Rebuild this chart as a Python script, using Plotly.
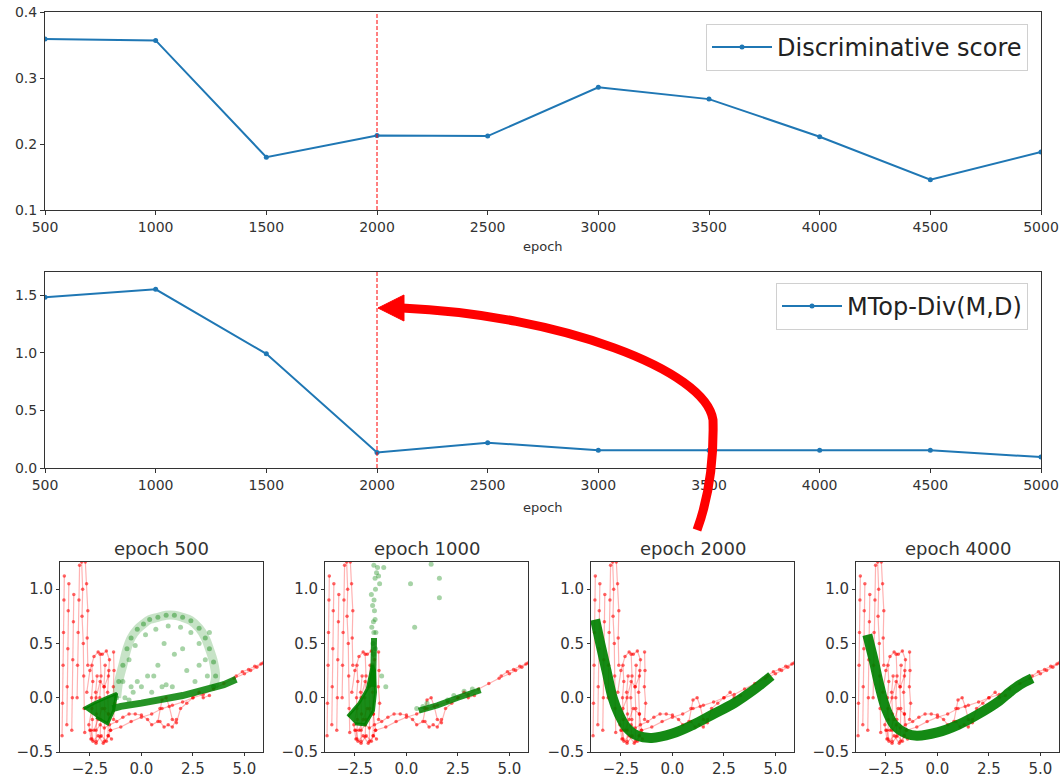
import plotly.graph_objects as go

W, H = 1061, 779

# ---------------- data ----------------
epochs = [500, 1000, 1500, 2000, 2500, 3000, 3500, 4000, 4500, 5000]
disc_score = [0.359, 0.357, 0.180, 0.213, 0.212, 0.286, 0.268, 0.211, 0.146, 0.188]
mtop_div = [1.48, 1.55, 0.99, 0.135, 0.22, 0.153, 0.153, 0.153, 0.153, 0.095]
marked_epoch = 2000

panel_titles = ["epoch 500", "epoch 1000", "epoch 2000", "epoch 4000"]
scatter_xticks = [-2.5, 0.0, 2.5, 5.0]
scatter_xticktext = ["\u22122.5", "0.0", "2.5", "5.0"]
scatter_yticks = [-0.5, 0.0, 0.5, 1.0]
scatter_yticktext = ["\u22120.5", "0.0", "0.5", "1.0"]

# real data (red), traced by hand; None separates strokes
red_x = [-3.85, -3.83, -3.8, -3.78, -3.76, -3.74, None,
         -3.62, -3.6, -3.57, -3.55, -3.52, None,
         -3.38, -3.35, -3.33, -3.3, -3.28, None,
         -3.12, -3.1, -3.07, -3.03, -3.0, None,
         -2.9, -2.85, -2.88, -2.82, -2.8, -2.78, -2.75, None,
         -2.72, -2.66, -2.6, -2.63, -2.6, None,
         -2.65, -2.5, -2.3, -2.1, -1.9, -1.7, -1.55, -1.6, -1.8, -2.0, -2.2, -2.4, -2.55, -2.45,
         -2.2, -1.95, -1.7, -1.5, -1.6, -1.9, -2.1, -2.3, None,
         -1.35, -1.33, -1.36, -1.3, -1.35, None,
         -2.5, -2.2, -2.0, -1.8, -1.55, -1.2, -0.9, -0.6, -0.3, 0.0, 0.3, 0.5, 0.8, 0.9, 1.0,
         1.2, 1.35, 1.5, 1.7, 1.9, 2.2, 2.5, 2.8, 3.0, 3.3, None,
         -1.5, -1.0, -0.5, 0.0, 0.5, 1.0, 1.5, 2.0, 2.5, 3.0, 3.5, 4.0, 4.5, 5.0, 5.3, 5.6, 5.9, None,
         -2.45, -2.35, -2.1, -1.85, -1.6, -1.45, None,
         0.9, 1.1, 1.3, 1.5, 1.7, None,
         -2.4, -2.38, -2.42, -2.36, -2.4, None,
         -2.2, -2.18, -2.22, -2.15, None,
         -2.0, -1.97, -2.02, -1.96, -2.0, None,
         -1.8, -1.78, -1.82, -1.76, None,
         -1.62, -1.6, -1.64, -1.58, None,
         4.6, 4.9, 5.2, 5.5, 5.8]
red_y = [-0.35, -0.05, 0.3, 0.6, 0.9, 1.12, None,
         -0.25, 0.1, 0.45, 0.8, 1.05, None,
         -0.3, 0.0, 0.35, 0.7, 0.95, None,
         0.0, 0.3, 0.6, 0.9, 1.22, None,
         1.25, 1.0, 0.75, 0.5, 0.2, -0.1, -0.32, None,
         1.25, 1.05, 0.8, 0.55, 0.3, None,
         0.05, 0.25, 0.38, 0.42, 0.4, 0.43, 0.35, 0.2, 0.1, 0.15, 0.0, -0.1, -0.25, -0.38,
         -0.42, -0.35, -0.4, -0.3, -0.15, -0.1, -0.2, -0.3, None,
         0.42, 0.25, 0.1, -0.05, -0.2, None,
         -0.3, -0.3, -0.25, -0.28, -0.25, -0.22, -0.18, -0.15, -0.15, -0.16, -0.2, -0.25, -0.22, -0.1, -0.02,
         0.0, -0.08, -0.2, -0.23, -0.1, -0.05, 0.0, 0.05, 0.0, 0.02, None,
         -0.3, -0.27, -0.22, -0.18, -0.15, -0.1, -0.07, -0.04, 0.0, 0.03, 0.08, 0.13, 0.18, 0.22, 0.25, 0.28, 0.32, None,
         -0.3, -0.4, -0.35, -0.42, -0.35, -0.38, None,
         -0.22, -0.27, -0.25, -0.27, -0.2, None,
         -0.38, -0.2, 0.0, 0.15, 0.3, None,
         -0.4, -0.15, 0.05, 0.2, None,
         -0.36, -0.2, 0.0, 0.2, 0.4, None,
         -0.4, -0.1, 0.1, 0.3, None,
         -0.35, -0.15, 0.05, 0.25, None,
         0.2, 0.24, 0.26, 0.29, 0.31]

# generated data (green), traced by hand
g500_wedge_x = [-2.8, -2.3, -1.7, -1.2, -1.35, -1.64, -2.2]
g500_wedge_y = [-0.1, -0.05, 0.0, 0.04, -0.12, -0.24, -0.18]
g500_band_x = [-1.4, -1.0, 0.0, 1.0, 2.0, 3.0, 4.0, 4.6]
g500_band_y = [-0.1, -0.08, -0.05, -0.02, 0.02, 0.07, 0.12, 0.17]
g500_arch_x = [-1.2, -1.1, -0.9, -0.7, -0.5, -0.2, 0.1, 0.4, 0.8, 1.2, 1.6, 2.0, 2.4, 2.8, 3.1, 3.3, 3.5, 3.6, 3.5]
g500_arch_y = [0.0, 0.15, 0.3, 0.45, 0.55, 0.63, 0.68, 0.72, 0.74, 0.76, 0.76, 0.74, 0.71, 0.64, 0.55, 0.45, 0.33, 0.2, 0.1]
g500_pts_x = [-0.9, -0.6, -0.3, 0.2, 0.7, 1.3, 1.9, 2.4, 2.8, 3.1, 3.2, 0.3, 0.8, 1.0, 1.6, 2.2, 2.6, 0.0, 1.5,
              2.8, -0.4, 3.3, 2.0, 1.1, -0.8, -0.5, -0.2, 0.5, 1.2, 0.6, -0.6]
g500_pts_y = [0.15, 0.35, 0.48, 0.58, 0.63, 0.66, 0.65, 0.6, 0.5, 0.35, 0.2, 0.2, 0.3, 0.1, 0.4, 0.25, 0.15, 0.1, 0.1,
              0.3, 0.05, 0.6, 0.45, 0.5, 0.0, 0.1, 0.15, 0.05, 0.12, 0.2, -0.02]

g1000_blob_x = [-2.85, -2.3, -1.9, -1.65, -1.55, -1.5, -1.6, -2.0, -2.5]
g1000_blob_y = [-0.17, -0.05, 0.08, 0.3, 0.25, 0.05, -0.12, -0.25, -0.24]
g1000_band_x = [-1.62, -1.6, -1.57, None, 0.6, 1.5, 2.5, 3.0, 3.6]
g1000_band_y = [0.1, 0.35, 0.55, None, -0.12, -0.07, 0.0, 0.03, 0.07]
g1000_pts_x = [-1.65, -1.6, -1.62, -1.58, -1.6, -1.55, -1.57, -1.5, -1.52, -1.45, -1.4, -1.58, -1.35,
               -1.3, -1.1, 0.2, 1.2, 1.6, 1.6, 0.4, 1.0, 0.8, 0.5, -1.68, -1.52, -1.64, -1.5,
               -1.7, -1.48, -1.2, -1.0, 2.0, 2.3, 2.8, 3.2]
g1000_pts_y = [0.3, 0.4, 0.5, 0.6, 0.7, 0.8, 0.9, 1.0, 1.1, 1.15, 1.2, 1.22, 1.12,
               1.05, 1.2, 1.05, 1.23, 1.1, 0.92, 0.65, -0.05, -0.08, -0.1, 0.65, 0.72, 0.85, 0.45,
               0.95, 0.6, 0.2, 0.1, -0.02, 0.02, 0.06, 0.08]

g2000_x = [-3.75, -3.5, -3.2, -2.9, -2.6, -2.2, -1.7, -1.0, 0.0, 1.0, 2.0, 3.0, 4.0, 4.8]
g2000_y = [0.72, 0.5, 0.25, 0.0, -0.15, -0.28, -0.35, -0.37, -0.33, -0.25, -0.15, -0.05, 0.08, 0.2]

g4000_x = [-3.4, -3.1, -2.8, -2.5, -2.1, -1.5, -1.0, 0.0, 1.0, 2.0, 3.0, 3.5, 4.0, 4.6]
g4000_y = [0.58, 0.35, 0.1, -0.1, -0.25, -0.33, -0.35, -0.32, -0.25, -0.15, -0.03, 0.05, 0.12, 0.18]

# ---------------- layout helpers ----------------
def px(x):
    return x / W

def py(y):
    return 1 - y / H

FONT = "DejaVu Sans"
BLUE = "#1f77b4"
AX = "#333333"
GREEN_SOLID = "rgba(0,128,0,0.9)"

fig = go.Figure()

fig.add_trace(go.Scatter(x=epochs, y=disc_score, mode="lines+markers", name="Discriminative score",
                         line=dict(color=BLUE, width=2), marker=dict(size=5, color=BLUE),
                         xaxis="x", yaxis="y", legend="legend"))
fig.add_trace(go.Scatter(x=epochs, y=mtop_div, mode="lines+markers", name="MTop-Div(M,D)",
                         line=dict(color=BLUE, width=2), marker=dict(size=5, color=BLUE),
                         xaxis="x2", yaxis="y2", legend="legend2"))

greens = [
    [(g500_wedge_x, g500_wedge_y, "blob", 3), (g500_band_x, g500_band_y, "band", 7),
     (g500_arch_x, g500_arch_y, "arch", 9), (g500_pts_x, g500_pts_y, "pts", 5)],
    [(g1000_blob_x, g1000_blob_y, "blob", 3), (g1000_band_x, g1000_band_y, "band", 6),
     (g1000_pts_x, g1000_pts_y, "pts", 5)],
    [(g2000_x, g2000_y, "curve", 10)],
    [(g4000_x, g4000_y, "curve", 10)],
]

for i in range(4):
    xa, ya = f"x{i+3}", f"y{i+3}"
    fig.add_trace(go.Scatter(x=red_x, y=red_y, mode="lines+markers", showlegend=False,
                             line=dict(color="rgba(255,0,0,0.3)", width=1.2),
                             marker=dict(size=3.5, color="rgba(255,0,0,0.6)"),
                             xaxis=xa, yaxis=ya))
    for gx, gy, kind, w in greens[i]:
        if kind == "pts":
            fig.add_trace(go.Scatter(x=gx, y=gy, mode="markers", showlegend=False,
                                     marker=dict(size=w, color="rgba(0,128,0,0.35)"),
                                     xaxis=xa, yaxis=ya))
        elif kind == "arch":
            fig.add_trace(go.Scatter(x=gx, y=gy, mode="lines+markers", showlegend=False,
                                     line=dict(color="rgba(0,128,0,0.22)", width=w, shape="spline"),
                                     marker=dict(size=5, color="rgba(0,128,0,0.4)"),
                                     xaxis=xa, yaxis=ya))
        elif kind == "blob":
            fig.add_trace(go.Scatter(x=gx, y=gy, mode="lines", fill="toself", showlegend=False,
                                     line=dict(color=GREEN_SOLID, width=w),
                                     fillcolor=GREEN_SOLID, xaxis=xa, yaxis=ya))
        elif kind == "band":
            fig.add_trace(go.Scatter(x=gx, y=gy, mode="lines", showlegend=False,
                                     line=dict(color="rgba(0,128,0,0.85)", width=w),
                                     xaxis=xa, yaxis=ya))
        else:
            fig.add_trace(go.Scatter(x=gx, y=gy, mode="lines", showlegend=False,
                                     line=dict(color="rgba(0,128,0,0.92)", width=w, shape="spline"),
                                     xaxis=xa, yaxis=ya))

xl, xr = px(45), px(1041)
axis_common = dict(showline=True, mirror=True, linecolor=AX, linewidth=1, ticks="outside",
                   ticklen=4, tickcolor=AX, showgrid=False, zeroline=False, automargin=False,
                   tickfont=dict(family=FONT, size=14, color=AX))

layout = dict(
    width=W, height=H, margin=dict(l=0, r=0, t=0, b=0, autoexpand=False),
    paper_bgcolor="white", plot_bgcolor="white",
    font=dict(family=FONT, color=AX),
    xaxis=dict(domain=[xl, xr], range=[500, 5000], tickvals=epochs, anchor="y", **axis_common),
    yaxis=dict(domain=[py(210), py(12)], range=[0.1, 0.4], tickvals=[0.1, 0.2, 0.3, 0.4],
               tickformat=".1f", anchor="x", **axis_common),
    xaxis2=dict(domain=[xl, xr], range=[500, 5000], tickvals=epochs, anchor="y2", **axis_common),
    yaxis2=dict(domain=[py(468), py(272)], range=[0, 1.70], tickvals=[0, 0.5, 1.0, 1.5],
                tickformat=".1f", anchor="x2", **axis_common),
    legend=dict(x=px(1028), y=py(24), xanchor="right", yanchor="top", bgcolor="white",
                bordercolor="#d0d0d0", borderwidth=1, itemwidth=60,
                font=dict(family=FONT, size=24, color="#222")),
    legend2=dict(x=px(1028), y=py(283), xanchor="right", yanchor="top", bgcolor="white",
                 bordercolor="#d0d0d0", borderwidth=1, itemwidth=60,
                 font=dict(family=FONT, size=24, color="#222")),
)

panel_px = [(60, 263), (325, 528), (591, 794), (856, 1059)]
small_common = dict(axis_common)
small_common["tickfont"] = dict(family=FONT, size=15, color=AX)
small_common["ticklen"] = 3
for i, (a, b) in enumerate(panel_px):
    n = i + 3
    layout[f"xaxis{n}"] = dict(domain=[px(a), px(b)], range=[-3.95, 5.9], tickvals=scatter_xticks,
                               ticktext=scatter_xticktext, anchor=f"y{n}", **small_common)
    layout[f"yaxis{n}"] = dict(domain=[py(752), py(562)], range=[-0.5, 1.25], tickvals=scatter_yticks,
                               ticktext=scatter_yticktext, anchor=f"x{n}", **small_common)

fig.update_layout(**layout)

annotations = [
    dict(text="epoch", x=px(543), y=py(246), xref="paper", yref="paper", showarrow=False,
         xanchor="center", yanchor="middle", font=dict(family=FONT, size=13, color=AX)),
    dict(text="epoch", x=px(543), y=py(507), xref="paper", yref="paper", showarrow=False,
         xanchor="center", yanchor="middle", font=dict(family=FONT, size=13, color=AX)),
]
for i, (a, b) in enumerate(panel_px):
    annotations.append(dict(text=panel_titles[i], x=px((a + b) / 2), y=py(548), xref="paper", yref="paper",
                            xanchor="center", yanchor="middle", showarrow=False,
                            font=dict(family=FONT, size=18, color=AX)))
fig.update_layout(annotations=annotations)

def P(x, y):
    return f"{px(x):.5f},{py(y):.5f}"

shapes = [
    dict(type="line", xref="x", yref="y domain", x0=marked_epoch, x1=marked_epoch, y0=0, y1=1,
         line=dict(color="red", width=1, dash="4px,2px")),
    dict(type="line", xref="x2", yref="y2 domain", x0=marked_epoch, x1=marked_epoch, y0=0, y1=1,
         line=dict(color="red", width=1, dash="4px,2px")),
    dict(type="path", xref="paper", yref="paper",
         path=f"M {P(697,530)} C {P(708,500)} {P(714,460)} {P(713,420)} C {P(706,370)} {P(560,315)} {P(402,308)}",
         line=dict(color="red", width=9), fillcolor="rgba(0,0,0,0)"),
    dict(type="path", xref="paper", yref="paper",
         path=f"M {P(378,308)} L {P(404,295)} L {P(404,321)} Z",
         line=dict(color="red", width=1), fillcolor="red"),
]
fig.update_layout(shapes=shapes)

fig.write_html("out.html")
